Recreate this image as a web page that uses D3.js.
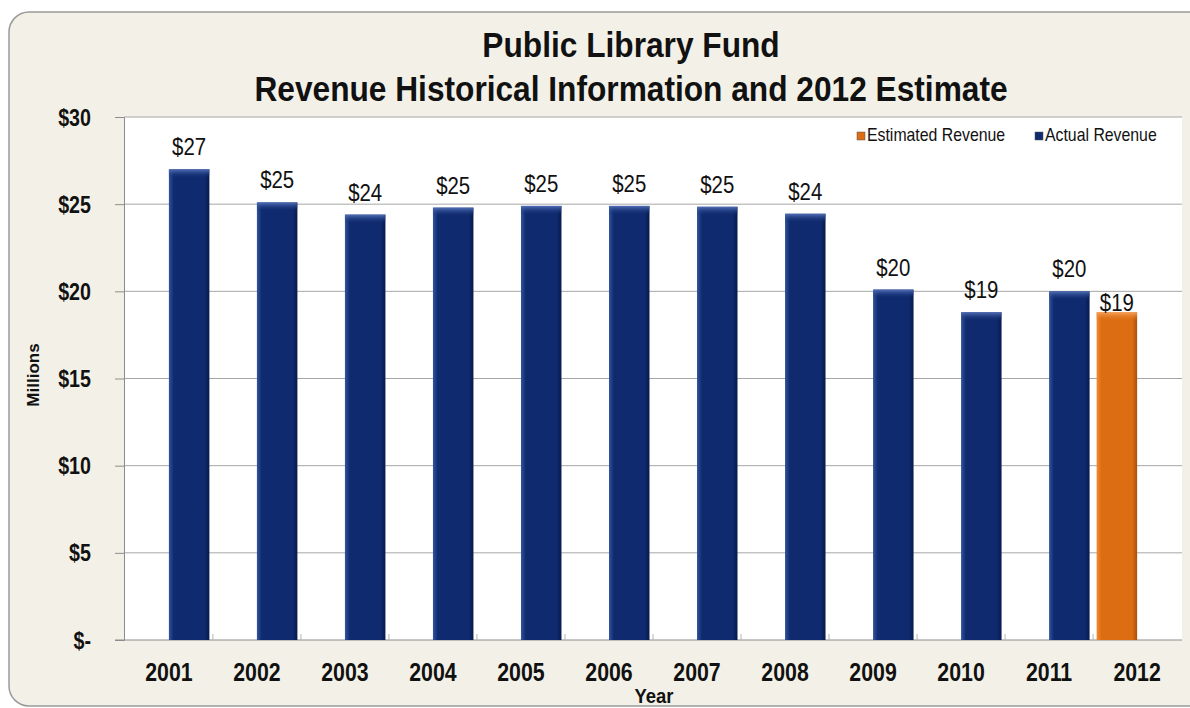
<!DOCTYPE html>
<html>
<head>
<meta charset="utf-8">
<script src="https://cdn.jsdelivr.net/npm/d3@7"></script>
<style>
  body { margin: 0; background: #ffffff; }
  svg { display: block; }
  text { font-family: "Liberation Sans", Arial, sans-serif; fill: #111; }
</style>
</head>
<body>
<svg id="canvas" width="1190" height="708"></svg>
<script>
  // values (millions of dollars)
  const years = ["2001", "2002", "2003", "2004", "2005", "2006", "2007", "2008", "2009", "2010", "2011", "2012"];
  const actualRevenue = [27.0, 25.1, 24.4, 24.8, 24.9, 24.9, 24.85, 24.45, 20.1, 18.8, 20.0, null];
  const estimatedRevenue = [null, null, null, null, null, null, null, null, null, null, null, 18.8];
  const series = ["Estimated Revenue", "Actual Revenue"];
  const yTicks = [0, 5, 10, 15, 20, 25, 30];
  const titleLines = ["Public Library Fund", "Revenue Historical Information and 2012 Estimate"];

  const colors = { "Estimated Revenue": "#dd6d12", "Actual Revenue": "#0f2a6e" };

  let svg = d3.select("svg");

  const plot = { left: 124, right: 1182, top: 117, bottom: 640 };

  // no narrow font installed, so squeeze text horizontally around its anchor
  function narrow(sel, sx) {
    sel.each(function() {
      let t = d3.select(this);
      const tx = +t.attr("x") || 0, ty = +t.attr("y") || 0;
      t.attr("x", 0).attr("y", 0)
          .attr("transform", `translate(${tx},${ty}) scale(${sx},1)`);
    });
  }

  // outer rounded panel
  svg.append("rect")
      .attr("x", 9).attr("y", 12)
      .attr("width", 1200).attr("height", 694)
      .attr("rx", 20)
      .attr("fill", "#f3f1e7")
      .attr("stroke", "#9a9a9a")
      .attr("stroke-width", 1.5);

  // gradients for bevelled bars
  let defs = svg.append("defs");
  function bevel(id, edge, mid, dark) {
    let g = defs.append("linearGradient").attr("id", id)
        .attr("x1", 0).attr("x2", 1).attr("y1", 0).attr("y2", 0);
    g.append("stop").attr("offset", "0%").attr("stop-color", edge);
    g.append("stop").attr("offset", "12%").attr("stop-color", mid);
    g.append("stop").attr("offset", "88%").attr("stop-color", mid);
    g.append("stop").attr("offset", "100%").attr("stop-color", dark);
  }
  bevel("blue", "#34549f", "#0f2a6e", "#081a4c");
  bevel("orange", "#f08a36", "#dd6d12", "#a94f08");
  function cap(id, light, base) {
    let g = defs.append("linearGradient").attr("id", id)
        .attr("x1", 0).attr("x2", 0).attr("y1", 0).attr("y2", 1);
    g.append("stop").attr("offset", "0%").attr("stop-color", light);
    g.append("stop").attr("offset", "100%").attr("stop-color", base).attr("stop-opacity", 0);
  }
  cap("blueCap", "#5270b8", "#0f2a6e");
  cap("orangeCap", "#f6a45c", "#dd6d12");

  // plot area
  svg.append("rect")
      .attr("x", plot.left).attr("y", plot.top)
      .attr("width", plot.right - plot.left).attr("height", plot.bottom - plot.top)
      .attr("fill", "#ffffff");

  const y = d3.scaleLinear().domain([0, 30]).range([plot.bottom, plot.top]);
  const x = d3.scaleBand().domain(years).range([plot.left, plot.right])
      .paddingInner(0.08).paddingOuter(0.05);
  const xs = d3.scaleBand().domain(series).range([0, x.bandwidth()]);

  // gridlines
  svg.append("g").selectAll("line").data(yTicks.filter(d => d > 0)).join("line")
      .attr("x1", plot.left).attr("x2", plot.right)
      .attr("y1", d => y(d)).attr("y2", d => y(d))
      .attr("stroke", "#a6a6a6").attr("stroke-width", 1);

  // y axis
  let yAxis = svg.append("g")
      .attr("transform", `translate(${plot.left},0)`)
      .call(d3.axisLeft(y).tickValues(yTicks).tickSize(9).tickPadding(24)
        .tickFormat(d => d === 0 ? "$-" : "$" + d));
  yAxis.select(".domain").attr("stroke", "#8c8c8c");
  yAxis.selectAll(".tick line").attr("stroke", "#8c8c8c");
  yAxis.selectAll("text")
      .attr("font-size", 24).attr("font-weight", "bold")
      .attr("fill", "#111")
      .attr("dy", null).attr("y", 8)
      .call(narrow, 0.82);

  // x axis
  svg.append("line")
      .attr("x1", plot.left - 9).attr("x2", plot.right)
      .attr("y1", plot.bottom).attr("y2", plot.bottom)
      .attr("stroke", "#8c8c8c");
  svg.append("g").selectAll("line").data(years.slice(1)).join("line")
      .attr("x1", d => x(d) - x.step() * x.paddingInner() / 2)
      .attr("x2", d => x(d) - x.step() * x.paddingInner() / 2)
      .attr("y1", plot.bottom).attr("y2", plot.bottom - 6)
      .attr("stroke", "#b5b5b5");
  svg.append("g").selectAll("text").data(years).join("text")
      .attr("x", d => x(d) + x.bandwidth() / 2)
      .attr("y", 681)
      .attr("text-anchor", "middle")
      .attr("font-size", 26).attr("font-weight", "bold")
      .text(d => d)
      .call(narrow, 0.82);

  // bars
  const rows = [];
  years.forEach((yr, i) => {
    if (estimatedRevenue[i] != null) rows.push({ year: yr, s: "Estimated Revenue", v: estimatedRevenue[i] });
    if (actualRevenue[i] != null) rows.push({ year: yr, s: "Actual Revenue", v: actualRevenue[i] });
  });

  let bars = svg.append("g").selectAll("g").data(rows).join("g")
      .attr("transform", d => `translate(${x(d.year) + xs(d.s)},0)`);
  bars.append("rect")
      .attr("y", d => y(d.v))
      .attr("width", xs.bandwidth())
      .attr("height", d => y(0) - y(d.v))
      .attr("fill", d => d.s === "Actual Revenue" ? "url(#blue)" : "url(#orange)");
  bars.append("rect")
      .attr("y", d => y(d.v))
      .attr("width", xs.bandwidth())
      .attr("height", 9)
      .attr("fill", d => d.s === "Actual Revenue" ? "url(#blueCap)" : "url(#orangeCap)");

  // value labels
  bars.append("text")
      .attr("x", xs.bandwidth() / 2)
      .attr("y", d => y(d.v) - (d.s === "Actual Revenue" ? 14 : 1))
      .attr("text-anchor", "middle")
      .attr("font-size", 24)
      .text(d => "$" + Math.round(d.v))
      .call(narrow, 0.85);

  // titles
  svg.append("g").selectAll("text").data(titleLines).join("text")
      .attr("x", 631)
      .attr("y", (d, i) => 57 + i * 44)
      .attr("text-anchor", "middle")
      .attr("font-size", 36).attr("font-weight", "bold")
      .text(d => d)
      .call(narrow, 0.88);

  svg.append("text")
      .attr("transform", "translate(39,375) rotate(-90)")
      .attr("text-anchor", "middle")
      .attr("font-size", 17).attr("font-weight", "bold")
      .text("Millions");

  svg.append("text")
      .attr("x", 654).attr("y", 703)
      .attr("text-anchor", "middle")
      .attr("font-size", 21).attr("font-weight", "bold")
      .text("Year")
      .call(narrow, 0.88);

  // legend
  let legend = svg.append("g").selectAll("g").data(series).join("g")
      .attr("transform", (d, i) => `translate(${[857, 1035][i]},141)`);
  legend.append("rect")
      .attr("x", 0).attr("y", -9)
      .attr("width", 8).attr("height", 8)
      .attr("fill", d => colors[d])
      .attr("stroke", "#555").attr("stroke-width", 0.5);
  legend.append("text")
      .attr("x", 10).attr("y", 0)
      .attr("font-size", 18)
      .attr("fill", "#333")
      .text(d => d)
      .call(narrow, 0.88);
</script>
</body>
</html>
